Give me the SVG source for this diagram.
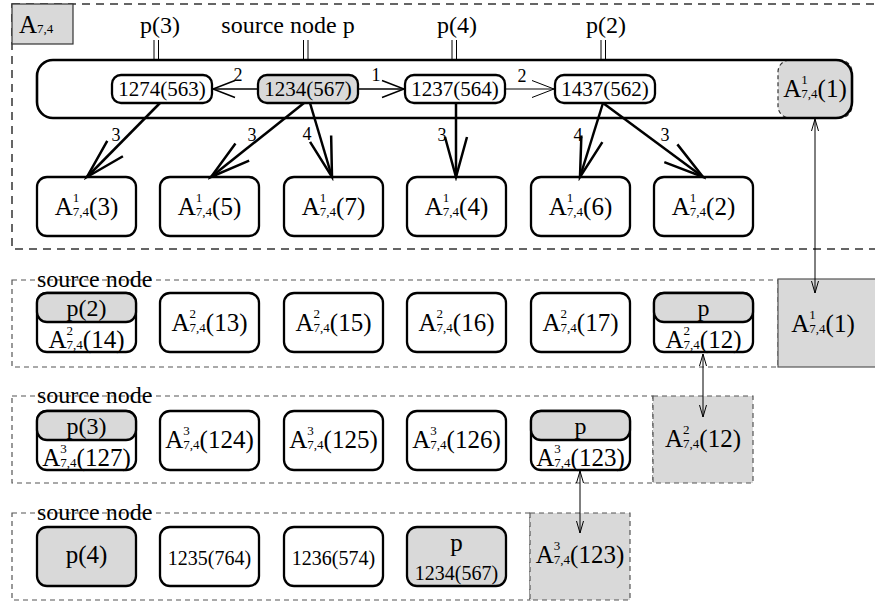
<svg xmlns="http://www.w3.org/2000/svg" width="875" height="605" viewBox="0 0 875 605">
<style>
text{font-family:"Liberation Serif","Times New Roman",serif;fill:#000}
.L{font-size:24px}
.M{font-size:25px}
.N{font-size:21px}
.S{font-size:20px}
.e{font-size:18px}
.s{font-size:13px}
.nd{fill:#fff;stroke:#000;stroke-width:2.3}
.gn{fill:#d9d9d9;stroke:#000;stroke-width:2.3}
.gr{fill:#d9d9d9}
.dT{fill:none;stroke:#333;stroke-width:1.5;stroke-dasharray:8 6}
.dR{fill:none;stroke:#555;stroke-width:1.2;stroke-dasharray:5 4}
.th{fill:none;stroke:#000;stroke-width:2.5}
.hz{fill:none;stroke:#000;stroke-width:1.5}
.tn{fill:none;stroke:#000;stroke-width:1}
</style>
<defs>
<marker id="big" viewBox="-44 -14 48 28" refX="0" refY="0" markerWidth="48" markerHeight="28" markerUnits="userSpaceOnUse" orient="auto"><path d="M-40,-11 L0,0 L-40,11" fill="none" stroke="#000" stroke-width="2.5"/></marker>
<marker id="mid" viewBox="-25 -11 28 22" refX="0" refY="0" markerWidth="28" markerHeight="22" markerUnits="userSpaceOnUse" orient="auto"><path d="M-22,-8.5 L0,0 L-22,8.5" fill="none" stroke="#000" stroke-width="1.5"/></marker>
<marker id="mid2" viewBox="-25 -11 28 22" refX="0" refY="0" markerWidth="28" markerHeight="22" markerUnits="userSpaceOnUse" orient="auto"><path d="M-22,-8.5 L0,0 L-22,8.5" fill="none" stroke="#000" stroke-width="1"/></marker>
<marker id="sm" viewBox="-14 -5 16 10" refX="0" refY="0" markerWidth="16" markerHeight="10" markerUnits="userSpaceOnUse" orient="auto-start-reverse"><path d="M-12,-3.5 L0,0 L-12,3.5" fill="none" stroke="#000" stroke-width="1"/></marker>
</defs>

<g id="frames">
<rect class="dT" x="12" y="4" width="870" height="245"/>
<rect class="dR" x="12" y="280" width="766" height="87"/>
<rect class="dR" x="12" y="396" width="641" height="87"/>
<rect class="dR" x="12" y="513" width="518" height="87"/>
</g>

<g id="title">
<rect x="12" y="4" width="61" height="40" fill="#d9d9d9" stroke="#333" stroke-width="1.2"/>
<text class="M" x="19" y="33">A<tspan class="s">7,4</tspan></text>
</g>

<g id="container">
<rect x="37" y="60" width="815" height="58" rx="16" fill="#fff"/>
<rect x="778" y="60" width="74" height="58" rx="12" class="gr" stroke="#333" stroke-width="1.2" stroke-dasharray="4 3"/>
<rect x="37" y="60" width="815" height="58" rx="16" fill="none" stroke="#000" stroke-width="2.6"/>
<text class="M" x="815" y="97" text-anchor="middle">A<tspan class="s" dy="-13">1</tspan><tspan class="s" dx="-6.5" dy="14">7,4</tspan><tspan dy="-1">(1)</tspan></text>
</g>

<g id="labels">
<text class="L" x="160" y="33" text-anchor="middle">p(3)</text>
<text class="L" x="288" y="33" text-anchor="middle">source node p</text>
<text class="L" x="457" y="33" text-anchor="middle">p(4)</text>
<text class="L" x="606" y="33" text-anchor="middle">p(2)</text>
<path class="tn" d="M154,40V60M158.5,40V60M303.5,40V60M308,40V60M452,40V60M456.5,40V60M601,40V60M605.5,40V60" stroke-width="1.3"/>
</g>

<g id="n1274"><rect class="nd" x="112" y="75" width="100" height="28" rx="9"/><text class="N" x="162" y="96" text-anchor="middle">1274(563)</text></g>
<g id="n1234"><rect class="gn" x="258" y="75" width="100" height="28" rx="9" stroke-width="2.8"/><text class="N" x="308" y="96" text-anchor="middle">1234(567)</text></g>
<g id="n1237"><rect class="nd" x="405" y="75" width="100" height="28" rx="9"/><text class="N" x="455" y="96" text-anchor="middle">1237(564)</text></g>
<g id="n1437"><rect class="nd" x="555" y="75" width="100" height="28" rx="9"/><text class="N" x="605" y="96" text-anchor="middle">1437(562)</text></g>

<g id="r1a3"><rect class="nd" x="37" y="177" width="99" height="59" rx="10"/><text class="M" x="86.5" y="215" text-anchor="middle">A<tspan class="s" dy="-13">1</tspan><tspan class="s" dx="-6.5" dy="14">7,4</tspan><tspan dy="-1">(3)</tspan></text></g>
<g id="r1a5"><rect class="nd" x="160" y="177" width="99" height="59" rx="10"/><text class="M" x="209.5" y="215" text-anchor="middle">A<tspan class="s" dy="-13">1</tspan><tspan class="s" dx="-6.5" dy="14">7,4</tspan><tspan dy="-1">(5)</tspan></text></g>
<g id="r1a7"><rect class="nd" x="284" y="177" width="99" height="59" rx="10"/><text class="M" x="333.5" y="215" text-anchor="middle">A<tspan class="s" dy="-13">1</tspan><tspan class="s" dx="-6.5" dy="14">7,4</tspan><tspan dy="-1">(7)</tspan></text></g>
<g id="r1a4"><rect class="nd" x="407" y="177" width="99" height="59" rx="10"/><text class="M" x="456.5" y="215" text-anchor="middle">A<tspan class="s" dy="-13">1</tspan><tspan class="s" dx="-6.5" dy="14">7,4</tspan><tspan dy="-1">(4)</tspan></text></g>
<g id="r1a6"><rect class="nd" x="531" y="177" width="99" height="59" rx="10"/><text class="M" x="580.5" y="215" text-anchor="middle">A<tspan class="s" dy="-13">1</tspan><tspan class="s" dx="-6.5" dy="14">7,4</tspan><tspan dy="-1">(6)</tspan></text></g>
<g id="r1a2"><rect class="nd" x="654" y="177" width="99" height="59" rx="10"/><text class="M" x="703.5" y="215" text-anchor="middle">A<tspan class="s" dy="-13">1</tspan><tspan class="s" dx="-6.5" dy="14">7,4</tspan><tspan dy="-1">(2)</tspan></text></g>

<g id="r2src"><text class="L" x="37" y="287">source node</text></g>
<g id="r2a14"><rect class="nd" x="37" y="293" width="99" height="59" rx="10"/><rect class="gn" x="37" y="293" width="99" height="29" rx="10"/><text class="L" x="86.5" y="316" text-anchor="middle">p(2)</text><text class="M" x="86.5" y="348" text-anchor="middle">A<tspan class="s" dy="-13">2</tspan><tspan class="s" dx="-6.5" dy="14">7,4</tspan><tspan dy="-1">(14)</tspan></text></g>
<g id="r2a13"><rect class="nd" x="160" y="293" width="99" height="59" rx="10"/><text class="M" x="209.5" y="331" text-anchor="middle">A<tspan class="s" dy="-13">2</tspan><tspan class="s" dx="-6.5" dy="14">7,4</tspan><tspan dy="-1">(13)</tspan></text></g>
<g id="r2a15"><rect class="nd" x="284" y="293" width="99" height="59" rx="10"/><text class="M" x="333.5" y="331" text-anchor="middle">A<tspan class="s" dy="-13">2</tspan><tspan class="s" dx="-6.5" dy="14">7,4</tspan><tspan dy="-1">(15)</tspan></text></g>
<g id="r2a16"><rect class="nd" x="407" y="293" width="99" height="59" rx="10"/><text class="M" x="456.5" y="331" text-anchor="middle">A<tspan class="s" dy="-13">2</tspan><tspan class="s" dx="-6.5" dy="14">7,4</tspan><tspan dy="-1">(16)</tspan></text></g>
<g id="r2a17"><rect class="nd" x="531" y="293" width="99" height="59" rx="10"/><text class="M" x="580.5" y="331" text-anchor="middle">A<tspan class="s" dy="-13">2</tspan><tspan class="s" dx="-6.5" dy="14">7,4</tspan><tspan dy="-1">(17)</tspan></text></g>
<g id="r2a12"><rect class="nd" x="654" y="293" width="99" height="59" rx="10"/><rect class="gn" x="654" y="293" width="99" height="29" rx="10"/><text class="L" x="703.5" y="316" text-anchor="middle">p</text><text class="M" x="703.5" y="348" text-anchor="middle">A<tspan class="s" dy="-13">2</tspan><tspan class="s" dx="-6.5" dy="14">7,4</tspan><tspan dy="-1">(12)</tspan></text></g>
<g id="r2g1"><rect x="778" y="279" width="100" height="88" fill="#d9d9d9" stroke="#555" stroke-width="1.2"/><text class="M" x="823" y="332" text-anchor="middle">A<tspan class="s" dy="-13">1</tspan><tspan class="s" dx="-6.5" dy="14">7,4</tspan><tspan dy="-1">(1)</tspan></text></g>

<g id="r3src"><text class="L" x="37" y="403">source node</text></g>
<g id="r3a127"><rect class="nd" x="37" y="411" width="99" height="59" rx="10"/><rect class="gn" x="37" y="411" width="99" height="29" rx="10"/><text class="L" x="86.5" y="434" text-anchor="middle">p(3)</text><text class="M" x="86.5" y="466" text-anchor="middle">A<tspan class="s" dy="-13">3</tspan><tspan class="s" dx="-6.5" dy="14">7,4</tspan><tspan dy="-1">(127)</tspan></text></g>
<g id="r3a124"><rect class="nd" x="160" y="411" width="99" height="59" rx="10"/><text class="M" x="209.5" y="448" text-anchor="middle">A<tspan class="s" dy="-13">3</tspan><tspan class="s" dx="-6.5" dy="14">7,4</tspan><tspan dy="-1">(124)</tspan></text></g>
<g id="r3a125"><rect class="nd" x="284" y="411" width="99" height="59" rx="10"/><text class="M" x="333.5" y="448" text-anchor="middle">A<tspan class="s" dy="-13">3</tspan><tspan class="s" dx="-6.5" dy="14">7,4</tspan><tspan dy="-1">(125)</tspan></text></g>
<g id="r3a126"><rect class="nd" x="407" y="411" width="99" height="59" rx="10"/><text class="M" x="456.5" y="448" text-anchor="middle">A<tspan class="s" dy="-13">3</tspan><tspan class="s" dx="-6.5" dy="14">7,4</tspan><tspan dy="-1">(126)</tspan></text></g>
<g id="r3a123"><rect class="nd" x="531" y="411" width="99" height="59" rx="10"/><rect class="gn" x="531" y="411" width="99" height="29" rx="10"/><text class="L" x="580.5" y="434" text-anchor="middle">p</text><text class="M" x="580.5" y="466" text-anchor="middle">A<tspan class="s" dy="-13">3</tspan><tspan class="s" dx="-6.5" dy="14">7,4</tspan><tspan dy="-1">(123)</tspan></text></g>
<g id="r3g12"><rect x="653" y="396" width="100" height="87" fill="#d9d9d9" stroke="#555" stroke-width="1.2" stroke-dasharray="5 4"/><text class="M" x="703" y="447" text-anchor="middle">A<tspan class="s" dy="-13">2</tspan><tspan class="s" dx="-6.5" dy="14">7,4</tspan><tspan dy="-1">(12)</tspan></text></g>

<g id="r4src"><text class="L" x="37" y="520">source node</text></g>
<g id="r4p4"><rect class="gn" x="37" y="527" width="99" height="59" rx="10"/><text class="M" x="86.5" y="563" text-anchor="middle">p(4)</text></g>
<g id="r4n1235"><rect class="nd" x="160" y="527" width="99" height="59" rx="10"/><text class="S" x="209.5" y="565" text-anchor="middle">1235(764)</text></g>
<g id="r4n1236"><rect class="nd" x="284" y="527" width="99" height="59" rx="10"/><text class="S" x="333.5" y="565" text-anchor="middle">1236(574)</text></g>
<g id="r4p"><rect class="gn" x="407" y="527" width="99" height="59" rx="10"/><text class="M" x="456.5" y="551" text-anchor="middle">p</text><text class="S" x="456.5" y="580" text-anchor="middle">1234(567)</text></g>
<g id="r4g123"><rect x="530" y="513" width="100" height="87" fill="#d9d9d9" stroke="#555" stroke-width="1.2" stroke-dasharray="5 4"/><text class="M" x="580" y="563" text-anchor="middle">A<tspan class="s" dy="-13">3</tspan><tspan class="s" dx="-6.5" dy="14">7,4</tspan><tspan dy="-1">(123)</tspan></text></g>

<g id="connectors">
<line class="hz" x1="258" y1="89" x2="213" y2="89" marker-end="url(#mid)"/>
<line class="hz" x1="358" y1="89" x2="404" y2="89" marker-end="url(#mid)"/>
<line class="tn" x1="505" y1="89" x2="554" y2="89" marker-end="url(#mid2)"/>
<line class="th" x1="160" y1="103" x2="87" y2="177" marker-end="url(#big)"/>
<line class="th" x1="304" y1="103" x2="211" y2="177" marker-end="url(#big)"/>
<line class="th" x1="310" y1="103" x2="332" y2="177" marker-end="url(#big)"/>
<line class="th" x1="456" y1="103" x2="456" y2="177" marker-end="url(#big)"/>
<line class="th" x1="603" y1="103" x2="580" y2="177" marker-end="url(#big)"/>
<line class="th" x1="603" y1="103" x2="703" y2="177" marker-end="url(#big)"/>
<line class="tn" x1="815" y1="119" x2="815" y2="293" marker-start="url(#sm)" marker-end="url(#sm)"/>
<line class="tn" x1="703" y1="354" x2="703" y2="417" marker-start="url(#sm)" marker-end="url(#sm)"/>
<line class="tn" x1="580" y1="471" x2="580" y2="533" marker-start="url(#sm)" marker-end="url(#sm)"/>
<text class="e" x="238" y="81" text-anchor="middle">2</text>
<text class="e" x="376" y="81" text-anchor="middle">1</text>
<text class="e" x="522" y="82" text-anchor="middle">2</text>
<text class="e" x="116" y="141" text-anchor="middle">3</text>
<text class="e" x="252" y="141" text-anchor="middle">3</text>
<text class="e" x="307" y="140" text-anchor="middle">4</text>
<text class="e" x="442" y="141" text-anchor="middle">3</text>
<text class="e" x="578" y="141" text-anchor="middle">4</text>
<text class="e" x="665" y="141" text-anchor="middle">3</text>
</g>
</svg>
